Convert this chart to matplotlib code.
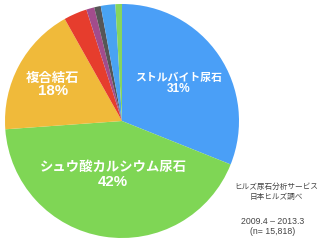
import matplotlib
matplotlib.use("Agg")
import matplotlib.pyplot as plt

categories = ["ストルバイト尿石", "シュウ酸カルシウム尿石", "複合結石", "その他1", "その他2", "その他3", "その他4", "その他5"]
values = [30.9, 42.6, 17.9, 3.2, 1.1, 0.9, 2.0, 0.9]
colors = ["#4A9FF7", "#7FD655", "#F0BA3A", "#E63D2D", "#A24C8C", "#565656", "#49A3F2", "#86D55E"]
pct_labels = ["31%", "42%", "18%"]
note_lines = ["ヒルズ尿石分析サービス", "日本ヒルズ調べ", "2009.4 – 2013.3", "(n= 15,818)"]

plt.rcParams['font.family'] = ['Noto Sans CJK JP', 'DejaVu Sans']

fig = plt.figure(figsize=(3.2, 2.4), dpi=100)
ax = fig.add_axes([0, 0, 1, 1])

ax.pie(values, colors=colors, startangle=90, counterclock=False,
       center=(122, 119), radius=117, wedgeprops=dict(linewidth=0))
ax.set_xlim(0, 320)
ax.set_ylim(0, 240)
ax.set_aspect('equal')
ax.axis('off')

def label(x, y_name, y_pct, name, pct, fs_name, fs_pct):
    ax.text(x, 240 - y_name, name, ha='center', va='center', color='white',
            fontsize=fs_name, fontweight='bold')
    ax.text(x, 240 - y_pct, pct, ha='center', va='center', color='white',
            fontsize=fs_pct, fontweight='bold', family=['Liberation Sans', 'DejaVu Sans'])

label(179, 78, 89, categories[0], pct_labels[0], 7.8, 8.6)
label(113, 167, 182, categories[1], pct_labels[1], 9.6, 10.8)
label(53, 78, 91, categories[2], pct_labels[2], 9.6, 10.8)

note_y = [187, 197, 221, 232]
for i, (t, y) in enumerate(zip(note_lines, note_y)):
    if i < 2:
        ax.text(276, 240 - y, t, ha='center', va='center', color='#444444', fontsize=5.5)
    else:
        ax.text(273, 240 - y, t, ha='center', va='center', color='#444444', fontsize=6.3,
                family=['Liberation Sans', 'DejaVu Sans'])

fig.savefig("out.png", dpi=100)
